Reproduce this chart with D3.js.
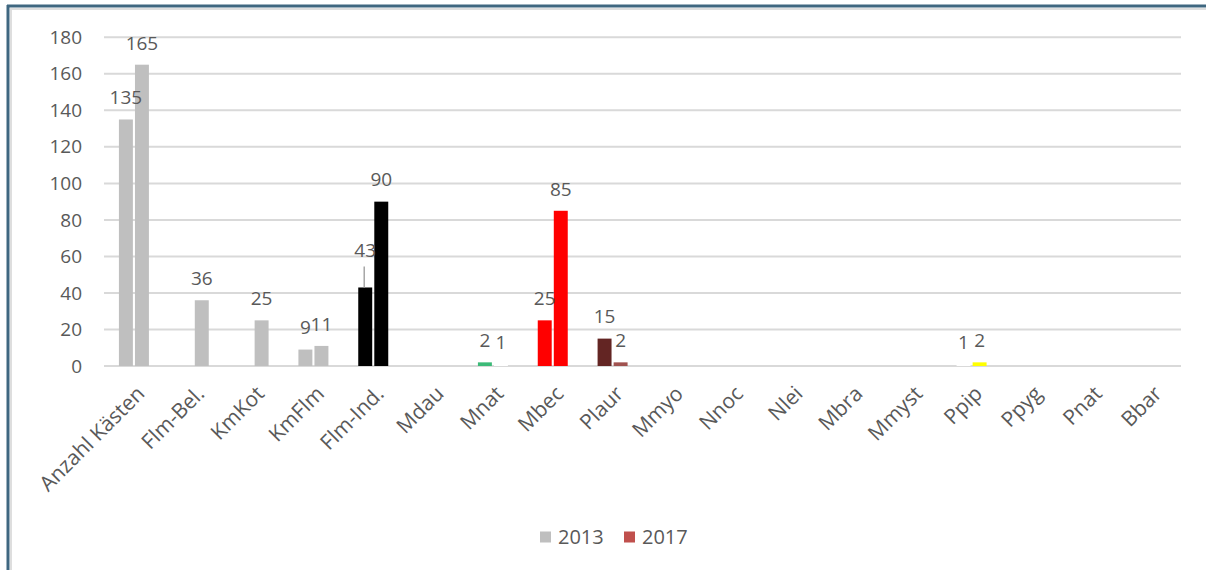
<!DOCTYPE html>
<html>
<head>
<meta charset="utf-8">
<script src="https://cdn.jsdelivr.net/npm/d3@7"></script>
<style>
  html, body { margin: 0; padding: 0; background: #ffffff; }
  svg { display: block; font-family: "Open Sans", "Liberation Sans", sans-serif; }
</style>
</head>
<body>
<svg id="chart" width="1206" height="570"></svg>
<script>
// Categories along the x axis
const categories = ["Anzahl Kästen", "Flm-Bel.", "KmKot", "KmFlm", "Flm-Ind.", "Mdau", "Mnat", "Mbec", "Plaur",
  "Mmyo", "Nnoc", "Nlei", "Mbra", "Mmyst", "Ppip", "Ppyg", "Pnat", "Bbar"];

// Counts per year (null = no entry)
const values2013 = [135, null, null, 9, 43, null, 2, 25, 15, null, null, null, null, null, 1, null, null, null];
const values2017 = [165, 36, 25, 11, 90, null, 1, 85, 2, null, null, null, null, null, 2, null, null, null];

// Fill per category and year
const colors2013 = ["#bfbfbf", "#bfbfbf", "#bfbfbf", "#bfbfbf", "#000000", "#bfbfbf", "#3cba78", "#ff0000", "#632523",
  "#bfbfbf", "#bfbfbf", "#bfbfbf", "#bfbfbf", "#bfbfbf", "#ffffff", "#bfbfbf", "#bfbfbf", "#bfbfbf"];
const colors2017 = ["#bfbfbf", "#bfbfbf", "#bfbfbf", "#bfbfbf", "#000000", "#c0504d", "#ffffff", "#ff0000", "#a0524f",
  "#c0504d", "#c0504d", "#c0504d", "#c0504d", "#c0504d", "#ffff00", "#c0504d", "#c0504d", "#c0504d"];

const years = ["2013", "2017"];
const legendColors = ["#bfbfbf", "#c0504d"];
const yTicks = [0, 20, 40, 60, 80, 100, 120, 140, 160, 180];

const svg = d3.select("#chart");
const textColor = "#595959";

// Outer frame
svg.append("line").attr("x1", 8).attr("x2", 8).attr("y1", 5).attr("y2", 570)
  .attr("stroke", "#3f6780").attr("stroke-width", 3);
svg.append("line").attr("x1", 7).attr("x2", 1206).attr("y1", 6).attr("y2", 6)
  .attr("stroke", "#3f6780").attr("stroke-width", 3);
svg.append("line").attr("x1", 11).attr("x2", 11).attr("y1", 8).attr("y2", 570)
  .attr("stroke", "#dedede").attr("stroke-width", 2);
svg.append("line").attr("x1", 10).attr("x2", 1206).attr("y1", 9).attr("y2", 9)
  .attr("stroke", "#dedede").attr("stroke-width", 2);

const plot = { left: 104, right: 1181, top: 37.3, bottom: 366 };

const x = d3.scaleBand().domain(categories).range([plot.left, plot.right]).padding(0);
const y = d3.scaleLinear().domain([0, 180]).range([plot.bottom, plot.top]);
const xs = d3.scaleBand().domain(years).range([x.bandwidth() / 2 - 15, x.bandwidth() / 2 + 15]).paddingInner(0.13);

// Gridlines
svg.append("g").selectAll("line").data(yTicks).join("line")
  .attr("x1", plot.left).attr("x2", plot.right)
  .attr("y1", d => y(d)).attr("y2", d => y(d))
  .attr("stroke", "#d9d9d9").attr("stroke-width", 2);

// Y axis labels
const yAxis = d3.axisLeft(y).tickValues(yTicks).tickSize(0).tickPadding(0);
const yg = svg.append("g").attr("transform", `translate(${plot.left - 22},0)`).call(yAxis);
yg.select(".domain").remove();
yg.selectAll("text").attr("fill", textColor).style("font-size", "19px")
  .style("font-family", "'Open Sans', sans-serif");

// X axis labels rotated
const xAxis = d3.axisBottom(x).tickSize(0).tickPadding(0);
const xg = svg.append("g").attr("transform", `translate(0,${plot.bottom})`).call(xAxis);
xg.select(".domain").remove();
xg.selectAll("text")
  .attr("fill", textColor).style("font-size", "21px").style("font-family", "'Open Sans', sans-serif")
  .attr("text-anchor", "end")
  .attr("y", 0).attr("dy", "0")
  .attr("transform", "translate(12,29) rotate(-45)");

// Bars
const rows = [];
categories.forEach((c, i) => {
  rows.push({ cat: c, year: "2013", value: values2013[i], color: colors2013[i] });
  rows.push({ cat: c, year: "2017", value: values2017[i], color: colors2017[i] });
});
const present = rows.filter(d => d.value != null);

svg.append("g").selectAll("rect").data(present).join("rect")
  .attr("x", d => x(d.cat) + xs(d.year))
  .attr("width", xs.bandwidth())
  .attr("y", d => y(d.value))
  .attr("height", d => y(0) - y(d.value))
  .attr("fill", d => d.color);

// Value labels; the Flm-Ind. 2013 label is lifted with a leader line
const lifted = d => d.cat === "Flm-Ind." && d.year === "2013";
const lab = svg.append("g").selectAll("g").data(present).join("g")
  .attr("transform", d => `translate(${x(d.cat) + xs(d.year) + xs.bandwidth() / 2},${y(d.value) - (lifted(d) ? 37 : 22)})`);
lab.append("text")
  .attr("text-anchor", "middle").attr("dy", "0.36em")
  .attr("fill", textColor).style("font-size", "19px")
  .text(d => d.value);
lab.filter(lifted).append("line")
  .attr("x1", -1).attr("x2", -1).attr("y1", 16).attr("y2", d => 37)
  .attr("stroke", "#a6a6a6").attr("stroke-width", 1.5);

// Legend
const legend = svg.append("g").attr("transform", "translate(540,537)");
const li = legend.selectAll("g").data(years).join("g")
  .attr("transform", (d, i) => `translate(${i * 84},0)`);
li.append("rect").attr("x", 0).attr("y", -5.5).attr("width", 11).attr("height", 11)
  .attr("fill", (d, i) => legendColors[i]);
li.append("text").attr("x", 18).attr("dy", "0.36em")
  .attr("fill", textColor).style("font-size", "20px").text(d => d);
</script>
</body>
</html>
